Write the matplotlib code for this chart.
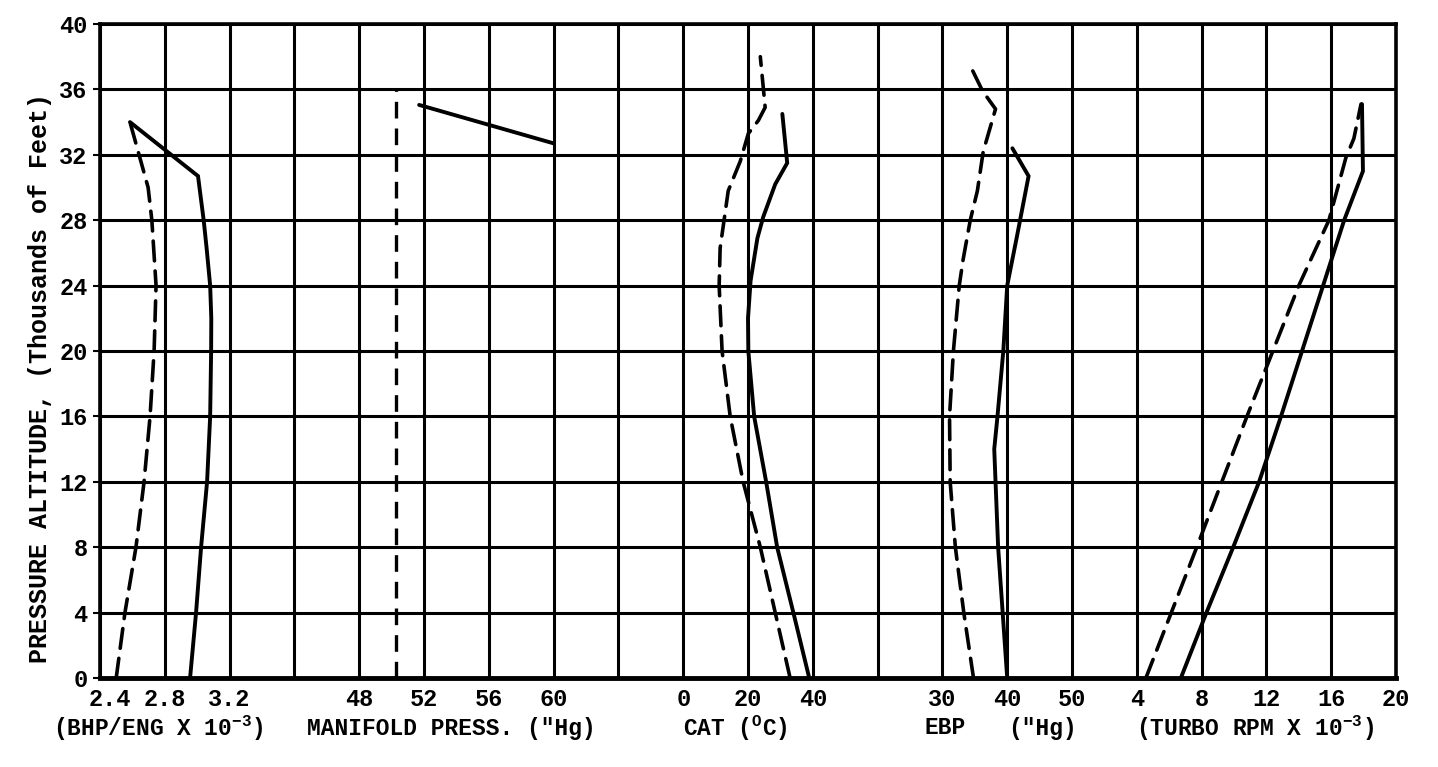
import matplotlib
matplotlib.use("Agg")
import matplotlib.pyplot as plt
import matplotlib.transforms as mtransforms

# ---------------- data ----------------
# Altitudes in thousands of feet
bhp_solid_alt = [0, 4, 8, 12, 16, 20, 22, 24, 26.3, 28, 30.7, 34.0]
bhp_solid = [2.956, 2.993, 3.024, 3.061, 3.080, 3.086, 3.087, 3.080, 3.058, 3.040, 3.005, 2.585]
bhp_dash_alt = [0, 4, 8, 12, 16, 20, 24, 28, 30, 32.4, 34.0]
bhp_dash = [2.50, 2.554, 2.622, 2.672, 2.709, 2.734, 2.746, 2.72, 2.697, 2.63, 2.585]

mp_dash_alt = [0, 36.0]
mp_dash = [50.3, 50.3]
mp_solid_alt = [32.7, 35.05]
mp_solid = [60.0, 51.7]

cat_solid_alt = [0, 4, 8, 12, 16, 20, 22, 24.3, 26.9, 28.2, 30.2, 31.5, 34.5]
cat_solid = [38.9, 34.0, 29.0, 25.6, 21.9, 20.1, 20.0, 20.8, 22.9, 24.7, 28.4, 32.1, 30.6]
cat_dash_alt = [0, 4, 8, 12, 16, 20, 24, 26.3, 29.8, 31.6, 33.3, 34.1, 34.9, 38.0]
cat_dash = [33.0, 28.4, 23.8, 18.5, 14.5, 12.0, 11.1, 11.4, 13.9, 17.6, 20.1, 23.2, 25.3, 23.8]

ebp_solid_alt = [0, 4, 8, 12, 14, 16, 20, 24, 27, 30.7, 32.4]
ebp_solid = [40.0, 39.3, 38.6, 38.2, 38.0, 38.5, 39.4, 40.0, 41.5, 43.3, 40.8]
ebp_dash_alt = [0, 4, 8, 12, 16, 20, 24, 25.6, 28, 29.8, 32.2, 34.8, 35.9, 37.2]
ebp_dash = [34.8, 33.3, 32.0, 31.2, 31.1, 31.7, 32.6, 33.2, 34.3, 35.4, 36.3, 38.2, 36.2, 34.6]

turbo_solid_alt = [0, 4, 8, 12, 16, 20, 24, 28, 31.0, 35.1]
turbo_solid = [6.72, 8.3, 9.95, 11.55, 12.9, 14.2, 15.5, 16.8, 17.96, 17.9]
turbo_dash_alt = [0, 8, 16, 24, 28, 31.8, 33, 35.1]
turbo_dash = [4.56, 7.7, 10.8, 14.0, 15.86, 16.9, 17.4, 17.84]

# tick labels of the five scales
bhp_ticks = ["2.4", "2.8", "3.2"]
mp_ticks = ["48", "52", "56", "60"]
cat_ticks = ["0", "20", "40"]
ebp_ticks = ["30", "40", "50"]
turbo_ticks = ["4", "8", "12", "16", "20"]
y_ticks = [0, 4, 8, 12, 16, 20, 24, 28, 32, 36, 40]

# ---------------- layout ----------------
W, H = 1438, 767
FONT = ["Liberation Mono", "DejaVu Sans Mono"]
plt.rcParams["font.family"] = FONT
plt.rcParams["font.weight"] = "bold"
plt.rcParams["mathtext.fontset"] = "custom"
plt.rcParams["mathtext.rm"] = "Liberation Mono:bold"

fig = plt.figure(figsize=(W / 100, H / 100), dpi=100)
x0, x1, ytop, ybot = 100, 1396, 24, 678
ax = fig.add_axes([x0 / W, 1 - ybot / H, (x1 - x0) / W, (ybot - ytop) / H])
NG = 20
ax.set_xlim(0, NG)
ax.set_ylim(0, 40)

# scale definitions: (value at origin column, origin column, units per column, labels)
scales = {
    "bhp": (2.4, 0, 0.4, bhp_ticks),
    "mp": (48, 4, 4, mp_ticks),
    "cat": (0, 9, 20, cat_ticks),
    "ebp": (30, 13, 10, ebp_ticks),
    "turbo": (4, 16, 4, turbo_ticks),
}

labels = [""] * (NG + 1)
for v0, g0, step, tl in scales.values():
    for i, t in enumerate(tl):
        labels[g0 + i] = t
ax.set_xticks(range(NG + 1), labels=labels)
ax.tick_params(axis="x", length=0, labelsize=17, pad=7)
ax.set_yticks(y_ticks)
ax.tick_params(axis="y", length=5, width=1.5, labelsize=17, pad=4)
for lab in ax.get_xticklabels() + ax.get_yticklabels():
    lab.set_fontweight("bold")
# nudge the first x label ("2.4") right so it clears the "0" altitude label
first = ax.get_xticklabels()[0]
first.set_transform(first.get_transform() + mtransforms.ScaledTranslation(10 / 100, 0, fig.dpi_scale_trans))

ax.grid(True, which="major", color="black", linewidth=2.2)
ax.set_axisbelow(True)
for s in ax.spines.values():
    s.set_linewidth(2.6)
ax.spines["bottom"].set_linewidth(3.5)

solid_kw = dict(color="black", linewidth=2.8, solid_capstyle="round", solid_joinstyle="miter", zorder=5)
dash_kw = dict(color="black", linewidth=2.6, linestyle=(0, (5.5, 2.8)), dash_capstyle="round", zorder=5)


def scale_axes(key):
    v0, g0, step, _ = scales[key]
    a = ax.twiny()
    a.set_xlim(v0 - g0 * step, v0 + (NG - g0) * step)
    a.set_ylim(0, 40)
    a.axis("off")
    return a


a = scale_axes("bhp")
a.plot(bhp_solid, bhp_solid_alt, **solid_kw)
a.plot(bhp_dash, bhp_dash_alt, **dash_kw)

a = scale_axes("mp")
a.plot(mp_solid, mp_solid_alt, **solid_kw)
a.plot(mp_dash, mp_dash_alt, color="black", linewidth=2.4, linestyle=(0, (5, 3)), zorder=5)

a = scale_axes("cat")
a.plot(cat_solid, cat_solid_alt, **solid_kw)
a.plot(cat_dash, cat_dash_alt, **dash_kw)

a = scale_axes("ebp")
a.plot(ebp_solid, ebp_solid_alt, **solid_kw)
a.plot(ebp_dash, ebp_dash_alt, **dash_kw)

a = scale_axes("turbo")
a.plot(turbo_solid, turbo_solid_alt, **solid_kw)
a.plot(turbo_dash, turbo_dash_alt, **dash_kw)

# second row of x labels
row2 = [
    (0.9, r"(BHP/ENG X 10$^{\mathregular{-3}}$)"),
    (5.42, 'MANIFOLD PRESS. ("Hg)'),
    (9.8, r"CAT ($^{\mathregular{O}}$C)"),
    (13.04, "EBP"),
    (14.54, '("Hg)'),
    (17.83, r"(TURBO RPM X 10$^{\mathregular{-3}}$)"),
]
ty = 1 - 728 / H
for gx, txt in row2:
    fx = (x0 + gx * (x1 - x0) / NG) / W
    fig.text(fx, ty, txt, ha="center", va="center", fontsize=16.5, fontweight="bold")

fig.text(40 / W, 1 - 378 / H, "PRESSURE ALTITUDE, (Thousands of Feet)", rotation=90,
         ha="center", va="center", fontsize=18, fontweight="bold")

fig.savefig("out.png", dpi=100, facecolor="white")
